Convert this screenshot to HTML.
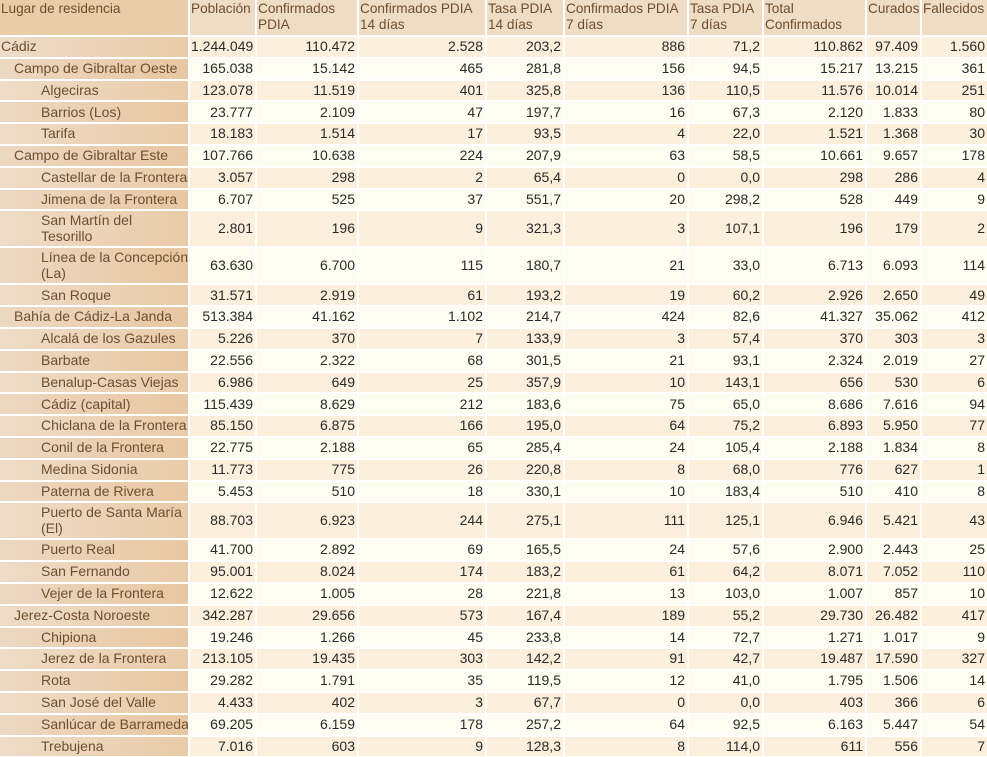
<!DOCTYPE html>
<html><head><meta charset="utf-8">
<style>
html,body{margin:0;padding:0;background:#fff;width:987px;height:757px;overflow:hidden}
table{border-collapse:separate;border-spacing:2px;margin:-2px 0 0 -2px;table-layout:fixed;font-family:"Liberation Sans",sans-serif;font-size:14px;width:991px}
th{background:#efdcc4;color:#6e4e2e;font-weight:normal;text-align:left;vertical-align:top;padding:1px 1px 0 1px;height:34px;line-height:15.5px;overflow:hidden;white-space:nowrap;font-size:13.6px}
th.lab{background:#eacca9}
td{padding:0 2px 0 1px;height:19.8px;line-height:15.5px;color:#2a2a2a;text-align:right;white-space:nowrap;overflow:hidden}
td.lab{text-align:left;color:#6e4e2e;white-space:pre}
tr.dbl td{height:35px}
tr.o td{background:#fcf0dc}
tr.e td{background:#fefdf1}
tr.o td.lab{background:linear-gradient(to right,#eedcc8,#e9cba8)}
tr.e td.lab{background:linear-gradient(to right,#ecd8c2,#e8c7a2)}
</style></head><body>
<table>
<colgroup><col style="width:188px"><col style="width:65px"><col style="width:100px"><col style="width:126px"><col style="width:76px"><col style="width:122px"><col style="width:73px"><col style="width:101px"><col style="width:53px"><col style="width:65px"></colgroup>
<thead><tr>
<th class="lab">Lugar de residencia</th>
<th>Población</th>
<th>Confirmados<br>PDIA</th>
<th>Confirmados PDIA<br>14 días</th>
<th>Tasa PDIA<br>14 días</th>
<th>Confirmados PDIA<br>7 días</th>
<th>Tasa PDIA<br>7 días</th>
<th>Total<br>Confirmados</th>
<th>Curados</th>
<th>Fallecidos</th>
</tr></thead>
<tbody id="tb"></tbody>
</table>
<script>
const rows=[
[0,"Cádiz","1.244.049","110.472","2.528","203,2","886","71,2","110.862","97.409","1.560"],
[1,"Campo de Gibraltar Oeste","165.038","15.142","465","281,8","156","94,5","15.217","13.215","361"],
[2,"Algeciras","123.078","11.519","401","325,8","136","110,5","11.576","10.014","251"],
[2,"Barrios (Los)","23.777","2.109","47","197,7","16","67,3","2.120","1.833","80"],
[2,"Tarifa","18.183","1.514","17","93,5","4","22,0","1.521","1.368","30"],
[1,"Campo de Gibraltar Este","107.766","10.638","224","207,9","63","58,5","10.661","9.657","178"],
[2,"Castellar de la Frontera","3.057","298","2","65,4","0","0,0","298","286","4"],
[2,"Jimena de la Frontera","6.707","525","37","551,7","20","298,2","528","449","9"],
[2,"San Martín del\nTesorillo","2.801","196","9","321,3","3","107,1","196","179","2"],
[2,"Línea de la Concepción\n(La)","63.630","6.700","115","180,7","21","33,0","6.713","6.093","114"],
[2,"San Roque","31.571","2.919","61","193,2","19","60,2","2.926","2.650","49"],
[1,"Bahía de Cádiz-La Janda","513.384","41.162","1.102","214,7","424","82,6","41.327","35.062","412"],
[2,"Alcalá de los Gazules","5.226","370","7","133,9","3","57,4","370","303","3"],
[2,"Barbate","22.556","2.322","68","301,5","21","93,1","2.324","2.019","27"],
[2,"Benalup-Casas Viejas","6.986","649","25","357,9","10","143,1","656","530","6"],
[2,"Cádiz (capital)","115.439","8.629","212","183,6","75","65,0","8.686","7.616","94"],
[2,"Chiclana de la Frontera","85.150","6.875","166","195,0","64","75,2","6.893","5.950","77"],
[2,"Conil de la Frontera","22.775","2.188","65","285,4","24","105,4","2.188","1.834","8"],
[2,"Medina Sidonia","11.773","775","26","220,8","8","68,0","776","627","1"],
[2,"Paterna de Rivera","5.453","510","18","330,1","10","183,4","510","410","8"],
[2,"Puerto de Santa María\n(El)","88.703","6.923","244","275,1","111","125,1","6.946","5.421","43"],
[2,"Puerto Real","41.700","2.892","69","165,5","24","57,6","2.900","2.443","25"],
[2,"San Fernando","95.001","8.024","174","183,2","61","64,2","8.071","7.052","110"],
[2,"Vejer de la Frontera","12.622","1.005","28","221,8","13","103,0","1.007","857","10"],
[1,"Jerez-Costa Noroeste","342.287","29.656","573","167,4","189","55,2","29.730","26.482","417"],
[2,"Chipiona","19.246","1.266","45","233,8","14","72,7","1.271","1.017","9"],
[2,"Jerez de la Frontera","213.105","19.435","303","142,2","91","42,7","19.487","17.590","327"],
[2,"Rota","29.282","1.791","35","119,5","12","41,0","1.795","1.506","14"],
[2,"San José del Valle","4.433","402","3","67,7","0","0,0","403","366","6"],
[2,"Sanlúcar de Barrameda","69.205","6.159","178","257,2","64","92,5","6.163","5.447","54"],
[2,"Trebujena","7.016","603","9","128,3","8","114,0","611","556","7"],
[2,"","","","","","","","","",""]
];
const cols=["poblacion","confirmados","conf-14","tasa-14","conf-7","tasa-7","total","curados","fallecidos"];
const tb=document.getElementById('tb');
rows.forEach((r,i)=>{
  const tr=document.createElement('tr');
  tr.className=(i%2?'e':'o')+(r[1].includes('\n')?' dbl':'');
  
  
  const l=document.createElement('td');
  l.className='lab';
  l.style.paddingLeft=[1,14,41][r[0]]+'px';
  l.textContent=r[1];
  
  
  tr.appendChild(l);
  for(let c=2;c<r.length;c++){
    const td=document.createElement('td');
    td.textContent=r[c];
    
    
    tr.appendChild(td);
  }
  tb.appendChild(tr);
});
</script>
</body></html>
